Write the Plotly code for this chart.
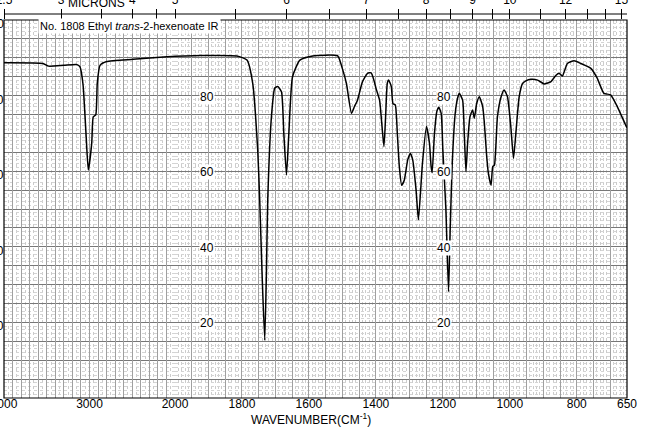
import plotly.graph_objects as go

# ---- data ----
wavenumber = [4000, 3544, 3480, 3300, 3146, 3111, 3076, 3041, 3014, 2974, 2956, 2927, 2909, 2877, 2799, 2491, 2094, 2000,
              1925, 1815, 1785, 1768, 1753, 1747, 1740, 1732, 1727, 1723, 1712, 1702, 1693, 1682, 1675, 1667, 1660,
              1649, 1627, 1589, 1553, 1514, 1499, 1488, 1473, 1464, 1455, 1440, 1425, 1414, 1406, 1399, 1389, 1376,
              1371, 1366, 1362, 1354, 1349, 1342, 1336, 1330, 1323, 1315, 1305, 1297, 1290, 1280, 1273, 1261, 1249,
              1240, 1235, 1232, 1225, 1218, 1212, 1205, 1200, 1191, 1183, 1178, 1172, 1163, 1156, 1151, 1141, 1136,
              1131, 1126, 1119, 1111, 1106, 1099, 1091, 1081, 1076, 1069, 1064, 1056, 1051, 1046, 1037, 1026, 1017,
              1007, 997, 989, 982, 972, 962, 952, 937, 917, 897, 877, 862, 853, 843, 828, 808, 788, 758, 739, 719,
              699, 679, 654, 650]
transmittance = [88.7, 88.5, 87.8, 88.0, 88.2, 87.6, 83.0, 70.0, 60.3, 67.4, 74.4, 74.9, 83.3, 88.0, 89.0, 89.6, 90.3, 90.4,
                 90.6, 90.5, 89.4, 83.3, 65.6, 52.4, 33.0, 15.3, 33.0, 52.4, 74.4, 82.0, 82.4, 81.0, 70.0, 59.0, 70.0,
                 85.0, 89.4, 90.5, 90.7, 90.5, 86.8, 83.2, 75.3, 77.1, 78.8, 83.7, 85.9, 86.0, 84.1, 81.7, 78.8, 66.5,
                 74.4, 83.2, 84.1, 82.4, 77.9, 77.5, 70.0, 61.2, 56.3, 57.7, 63.0, 64.7, 63.0, 55.0, 47.1, 62.0, 71.8,
                 67.4, 61.2, 59.6, 70.0, 75.8, 76.9, 75.3, 65.6, 50.0, 28.1, 45.0, 62.0, 75.4, 79.3, 80.6, 78.8, 70.0,
                 59.9, 67.4, 74.4, 76.2, 74.0, 77.9, 79.7, 77.1, 72.7, 63.9, 59.4, 56.3, 61.2, 61.6, 74.4, 79.7, 81.5,
                 79.7, 71.8, 63.4, 70.0, 79.7, 83.2, 83.9, 84.3, 84.1, 83.1, 83.7, 85.4, 85.9, 85.2, 88.5, 89.2, 88.5,
                 87.2, 84.6, 80.6, 80.2, 77.1, 72.2, 71.5]

bottom_tick_hi = [4000, 3500, 3000, 2500, 2000]
bottom_text_hi = ["4000", "", "3000", "", "2000"]
bottom_tick_lo = [1900, 1800, 1700, 1600, 1500, 1400, 1300, 1200, 1100, 1000, 900, 800, 700, 650]
bottom_text_lo = ["", "1800", "", "1600", "", "1400", "", "1200", "", "1000", "", "800", "", "650"]

microns_hi = [2.5, 3, 3.5, 4, 4.5, 5]
microns_hi_text = ["2.5", "3", "", "4", "", "5"]
microns_lo = [5.5, 6, 6.5, 7, 7.5, 8, 8.5, 9, 9.5, 10, 11, 12, 13, 14, 15]
microns_lo_text = ["", "6", "", "7", "", "8", "", "9", "", "10", "", "12", "", "", "15"]

inner_labels = [80, 60, 40, 20]
title_text = "No. 1808 Ethyl <i>trans</i>-2-hexenoate IR"

# ---- geometry ----
W, H = 650, 431
ML, MR, MT, MB = 4, 23, 20, 33
PW = W - ML - MR
PH = H - MT - MB
SPLIT = (175 - ML) / PW
FONT = "Liberation Sans"

hi = [(w, t) for w, t in zip(wavenumber, transmittance) if w >= 2000]
lo = [(w, t) for w, t in zip(wavenumber, transmittance) if w <= 2000]

line = dict(color="black", width=1.5, shape="spline", smoothing=0.5)
fig = go.Figure()
fig.add_trace(go.Scatter(x=[p[0] for p in hi], y=[p[1] for p in hi], mode="lines", line=line,
                         xaxis="x", yaxis="y", hoverinfo="skip"))
fig.add_trace(go.Scatter(x=[p[0] for p in lo], y=[p[1] for p in lo], mode="lines", line=line,
                         xaxis="x2", yaxis="y", hoverinfo="skip"))
for ax in ["x3", "x4", "x5", "x6"]:
    fig.add_trace(go.Scatter(x=[], y=[], xaxis=ax, yaxis="y", hoverinfo="skip"))

tickfont = dict(family=FONT, size=12, color="black")
common = dict(zeroline=False, showline=False, ticks="", tickfont=tickfont, ticklabeloverflow="allow")

fig.update_layout(
    template="none",
    width=W, height=H,
    margin=dict(l=ML, r=MR, t=MT, b=MB, pad=0),
    paper_bgcolor="white", plot_bgcolor="white",
    showlegend=False,
    font=dict(family=FONT, size=12, color="black"),
    xaxis=dict(domain=[0, SPLIT], range=[4000, 2000], anchor="y", automargin=False,
               tickmode="array", tickvals=bottom_tick_hi, ticktext=bottom_text_hi,
               showgrid=True, gridcolor="#666", gridwidth=1,
               minor=dict(tickmode="linear", tick0=0, dtick=50, showgrid=True,
                          gridcolor="#cccccc", griddash="dot", ticks=""),
               ticklabelstandoff=-3, **common),
    xaxis3=dict(overlaying="x", range=[4000, 2000], anchor="y", automargin=False,
                tickmode="linear", tick0=0, dtick=100, showgrid=True, gridcolor="#a0a0a0",
                showticklabels=False, zeroline=False, ticks=""),
    xaxis2=dict(domain=[SPLIT, 1], range=[2000, 650], anchor="y", automargin=False,
                tickmode="array", tickvals=bottom_tick_lo, ticktext=bottom_text_lo,
                showgrid=True, gridcolor="#666", gridwidth=1,
                minor=dict(tickmode="linear", tick0=0, dtick=10, showgrid=True,
                           gridcolor="#cccccc", griddash="dot", ticks=""),
                ticklabelstandoff=-3, **common),
    xaxis4=dict(overlaying="x2", range=[2000, 650], anchor="y", automargin=False,
                tickmode="linear", tick0=0, dtick=50, showgrid=True, gridcolor="#a0a0a0",
                showticklabels=False, zeroline=False, ticks=""),
    xaxis5=dict(overlaying="x", range=[4000, 2000], anchor="y", side="top", automargin=False,
                tickmode="array", tickvals=[10000 / m for m in microns_hi], ticktext=microns_hi_text,
                showgrid=False, zeroline=False, ticks="outside", ticklen=10, tickcolor="black",
                tickwidth=1, tickfont=tickfont, ticklabelstandoff=0, ticklabeloverflow="allow"),
    xaxis6=dict(overlaying="x2", range=[2000, 650], anchor="y", side="top", automargin=False,
                tickmode="array", tickvals=[10000 / m for m in microns_lo], ticktext=microns_lo_text,
                showgrid=False, zeroline=False, ticks="outside", ticklen=10, tickcolor="black",
                tickwidth=1, tickfont=tickfont, ticklabelstandoff=0, ticklabeloverflow="allow"),
    yaxis=dict(range=[0, 100], anchor="x", automargin=False, showticklabels=False,
               tickmode="linear", tick0=0, dtick=5, showgrid=True, gridcolor="#777",
               minor=dict(tickmode="linear", tick0=0, dtick=1, showgrid=True,
                          gridcolor="#d4d4d4", griddash="dot", ticks=""),
               zeroline=False, showline=False, ticks=""),
)

# frame and top scale line
fig.add_shape(type="rect", xref="paper", yref="paper", x0=0, x1=1, y0=0, y1=1,
              line=dict(color="black", width=1.2), layer="above")
fig.add_shape(type="line", xref="paper", yref="paper", x0=0, x1=1,
              y0=(H - MB - 14) / PH, y1=(H - MB - 14) / PH,
              line=dict(color="black", width=1))

ann = []
# title inside chart
ann.append(dict(text=title_text, xref="paper", yref="paper", x=(38 - ML) / PW, y=(H - MB - 26) / PH,
                xanchor="left", yanchor="middle", showarrow=False, bgcolor="white", borderpad=1,
                font=dict(family=FONT, size=11, color="black")))
# MICRONS label
ann.append(dict(text="MICRONS", xref="paper", yref="paper", x=(96 - ML) / PW, y=(H - MB - 3) / PH,
                xanchor="center", yanchor="middle", showarrow=False,
                font=dict(family=FONT, size=12, color="black")))
# axis title
ann.append(dict(text="WAVENUMBER(CM<sup>-1</sup>)", xref="paper", yref="paper", x=(311 - ML) / PW,
                y=(H - MB - 419) / PH, xanchor="center", yanchor="middle", showarrow=False,
                font=dict(family=FONT, size=12, color="black")))
# inner % transmittance labels
for v in inner_labels:
    for xpos in (1905, 1197):
        ann.append(dict(text=str(v), xref="x2", yref="y", x=xpos, y=v, yshift=-1,
                        xanchor="center", yanchor="middle", showarrow=False,
                        bgcolor="white", borderpad=0,
                        font=dict(family=FONT, size=12, color="black")))
# left-edge (cut off) labels
for v in [100] + inner_labels:
    ann.append(dict(text=str(v), xref="paper", yref="y", x=(6 - ML) / PW, y=v, yshift=-4,
                    xanchor="right", yanchor="middle", showarrow=False,
                    font=dict(family=FONT, size=12, color="black")))
fig.update_layout(annotations=ann)

fig.write_html("out.html", config={"displayModeBar": False},
               post_script="document.body.style.margin='0px';")
